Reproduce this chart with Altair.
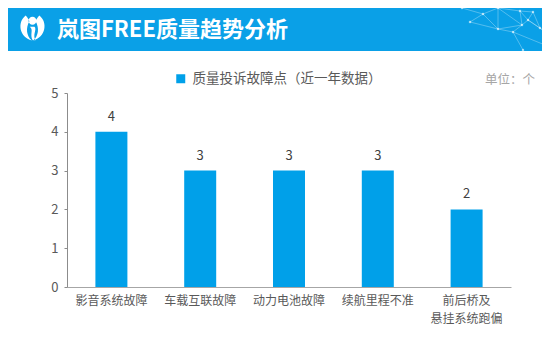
import altair as alt
import pandas as pd

# ---- data ----
categories = ["影音系统故障", "车载互联故障", "动力电池故障", "续航里程不准", "前后桥及悬挂系统跑偏"]
values = [4, 3, 3, 3, 2]
series_name = "质量投诉故障点（近一年数据）"
y_ticks = [0, 1, 2, 3, 4, 5]
title_text = "岚图FREE质量趋势分析"
unit_text = "单位：个"

FONT = "Noto Sans CJK SC"
BAR = "#00a0e9"
BANNER = "#0aa0e7"

# plot-area origin on the page (chart padding + 8px page margin)
OX, OY = 67, 93
W, H = 444, 194

df = pd.DataFrame({"cat": categories, "val": values, "series": [series_name] * len(categories)})
one = pd.DataFrame({"a": [0]})

# decorative network in the banner (page coords)
nodes = {
    "A": (498, 6), "B": (483, 14), "C": (520, 11), "D": (533, 12), "E": (528, 20),
    "F": (522, 25), "G": (513, 32), "H": (498, 29), "I": (540, 28), "J": (547, 33),
    "K": (545, 45), "L": (523, 50), "M": (462, 8), "N": (470, 22),
}
edges = ["AB", "AC", "AF", "AH", "BH", "BM", "CD", "CE", "CF", "DE", "DI", "EF",
         "EI", "FG", "FH", "GH", "GL", "IJ", "JK", "EJ", "NB", "NH", "GK"]
net = pd.DataFrame({
    "x1": [nodes[e[0]][0] - OX for e in edges],
    "y1": [max(nodes[e[0]][1], 8) - OY for e in edges],
    "x2": [nodes[e[1]][0] - OX for e in edges],
    "y2": [max(nodes[e[1]][1], 8) - OY for e in edges],
})
netpts = pd.DataFrame({
    "x": [v[0] - OX for v in nodes.values()],
    "y": [max(v[1], 8) - OY for v in nodes.values()],
})

banner = alt.Chart(one).mark_rect(color=BANNER).encode(
    x=alt.value(8 - OX), x2=alt.value(542 - OX),
    y=alt.value(8 - OY), y2=alt.value(51 - OY),
)

lines = alt.Chart(net).mark_rule(color="white", opacity=0.3, strokeWidth=1).encode(
    x=alt.X("x1:Q", scale=None, axis=None), x2="x2:Q",
    y=alt.Y("y1:Q", scale=None, axis=None), y2="y2:Q",
)
dots = alt.Chart(netpts).mark_circle(color="white", opacity=0.6, size=6).encode(
    x=alt.X("x:Q", scale=None, axis=None),
    y=alt.Y("y:Q", scale=None, axis=None),
)

logo_path = (
    "M 0 -0.9 A 0.32 0.32 0 1 1 0 -0.26 A 0.32 0.32 0 1 1 0 -0.9 Z "
    "M -0.55 -1 C -1.25 -0.45 -1.05 0.75 -0.05 1 C -0.5 0.6 -0.55 0.0 -0.25 -0.55 "
    "C -0.35 -0.75 -0.45 -0.9 -0.55 -1 Z "
    "M 0.55 -1 C 1.25 -0.45 1.05 0.75 0.05 1 C 0.5 0.6 0.55 0.0 0.25 -0.55 "
    "C 0.35 -0.75 0.45 -0.9 0.55 -1 Z "
    "M -0.22 -0.1 C 0.12 0.12 -0.25 0.55 0.02 0.98 L 0.24 0.98 C -0.02 0.55 0.38 0.1 0.16 -0.1 Z"
)
logo = alt.Chart(one).mark_point(
    shape=logo_path, filled=True, fill="white", stroke=None, opacity=1, size=625
).encode(x=alt.value(32.5 - OX), y=alt.value(28 - OY))

title = alt.Chart(one).mark_text(
    text=title_text, font=FONT, fontWeight="bold", fontSize=22, color="white",
    align="left", baseline="middle",
).encode(x=alt.value(57 - OX), y=alt.value(29.5 - OY))

unit = alt.Chart(one).mark_text(
    text=unit_text, font=FONT, fontSize=12.5, color="#a6a6a6",
    align="right", baseline="middle",
).encode(x=alt.value(535 - OX), y=alt.value(79.5 - OY))

label_expr = ("length(datum.label) > 6 ? [substring(datum.label, 0, 4), "
              "substring(datum.label, 4)] : datum.label")

x_enc = alt.X(
    "cat:N", sort=categories, title=None,
    scale=alt.Scale(paddingInner=0.64, paddingOuter=0.32),
    axis=alt.Axis(
        labelAngle=0, ticks=False, domainColor="#a6a6a6", domainWidth=1,
        labelColor="#595959", labelFont=FONT, labelFontSize=12,
        labelPadding=8, labelLineHeight=18, labelExpr=label_expr,
    ),
)
y_enc = alt.Y(
    "val:Q", title=None,
    scale=alt.Scale(domain=[0, 5], nice=False, zero=True),
    axis=alt.Axis(
        values=y_ticks, tickCount=6, grid=False, tickSize=3, tickColor="#8c8c8c",
        domainColor="#8c8c8c", labelColor="#595959", labelFont=FONT,
        labelFontSize=13, labelPadding=6, labelOverlap=False,
    ),
)

bars = alt.Chart(df).mark_bar(size=32).encode(
    x=x_enc, y=y_enc,
    color=alt.Color(
        "series:N", scale=alt.Scale(range=[BAR]),
        legend=alt.Legend(
            orient="none", legendX=107, legendY=-21, title=None,
            symbolType="square", symbolSize=81, symbolStrokeWidth=0,
            labelFont=FONT, labelFontSize=13.5, labelColor="#595959",
            labelOffset=5, padding=0, labelLimit=400,
        ),
    ),
)
bar_text = alt.Chart(df).mark_text(
    font=FONT, fontSize=13, color="#404040", baseline="alphabetic", dy=-11,
).encode(x=x_enc, y=y_enc, text="val:Q")

chart = alt.layer(bars, bar_text, banner, lines, dots, logo, title, unit).properties(
    width=W, height=H,
    autosize=alt.AutoSizeParams(type="none"),
    padding={"left": 59, "top": 85, "right": 31, "bottom": 57},
    background="white",
).configure_view(stroke=None)

chart.save("out.html", embed_options={"renderer": "svg", "actions": False})
